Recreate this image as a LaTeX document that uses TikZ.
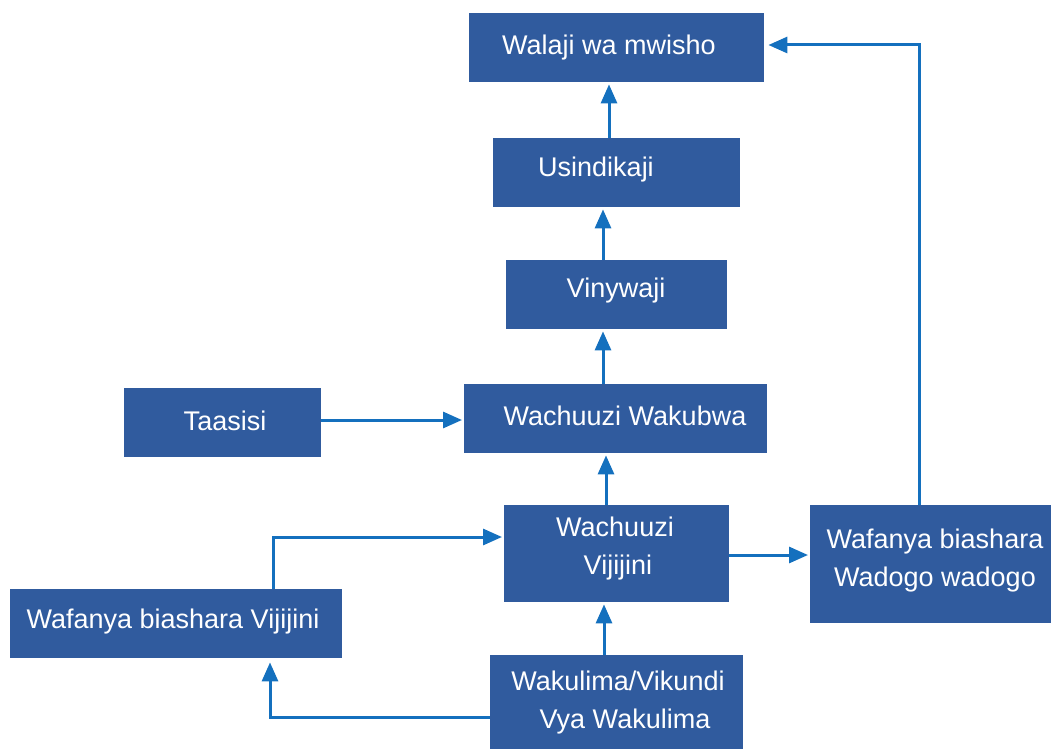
\documentclass[tikz,border=0pt]{standalone}
\usepackage{fontspec}
\setmainfont{Liberation Sans}
\usetikzlibrary{arrows.meta,positioning}
\definecolor{boxblue}{RGB}{48,91,158}
\definecolor{arrblue}{RGB}{20,112,190}
\tikzset{
  box/.style={fill=boxblue,draw=none,inner sep=0pt,anchor=north west},
  lbl/.style={text=white,font=\fontsize{27}{38}\selectfont,inner sep=0pt,align=center},
  conn/.style={draw=arrblue,line width=3pt,-{Triangle[length=19pt,width=16pt]}}
}
\begin{document}
\begin{tikzpicture}[x=1pt,y=-1pt]
\useasboundingbox (0,0) rectangle (1052,749);
% boxes
\node[box,minimum width=295pt,minimum height=69pt] (walaji) at (469,13) {};
\node[box,minimum width=247pt,minimum height=69pt] (usind) at (493,138) {};
\node[box,minimum width=221pt,minimum height=69pt] (viny) at (506,260) {};
\node[box,minimum width=197pt,minimum height=69pt] (taas) at (124,388) {};
\node[box,minimum width=303pt,minimum height=69pt] (wakub) at (464,384) {};
\node[box,minimum width=225pt,minimum height=97pt] (vijij) at (504,505) {};
\node[box,minimum width=241pt,minimum height=118pt] (wadogo) at (810,505) {};
\node[box,minimum width=332pt,minimum height=69pt] (wafvij) at (10,589) {};
\node[box,minimum width=253pt,minimum height=94pt] (wakul) at (490,655) {};
% labels
\node[lbl] (t1) at (609,48) {Walaji wa mwisho};
\node[lbl] (t2) at (596,170) {Usindikaji};
\node[lbl] (t3) at (616,291) {Vinywaji};
\node[lbl] (t4) at (225,421) {Taasisi};
\node[lbl] (t5) at (625,416) {Wachuuzi Wakubwa};
\node[lbl] (t6) at (615,549) {Wachuuzi\\\hspace*{6pt}Vijijini};
\node[lbl] (t7) at (935,561) {Wafanya biashara\\Wadogo wadogo};
\node[lbl] (t8) at (173,622) {Wafanya biashara Vijijini};
\node[lbl] (t9) at (618,703) {Wakulima/Vikundi\\\hspace*{14pt}Vya Wakulima};
% helper coordinates
\coordinate (x609) at (609,0);
\coordinate (x603) at (603,0);
\coordinate (x606) at (606,0);
\coordinate (x604) at (604,0);
\coordinate (x270) at (270,0);
\coordinate (x273) at (273,0);
\coordinate (x919) at (919,0);
\coordinate (y420) at (0,420);
\coordinate (y555) at (0,555);
\coordinate (y537) at (0,537);
\coordinate (y717) at (0,717);
\coordinate (y45) at (0,45);
% connectors
\draw[conn] (usind.north -| x609) -- ([yshift=-2pt]walaji.south -| x609);
\draw[conn] (viny.north -| x603) -- ([yshift=-2pt]usind.south -| x603);
\draw[conn] (wakub.north -| x603) -- ([yshift=-2pt]viny.south -| x603);
\draw[conn] (taas.east |- y420) -- ([xshift=-2pt]wakub.west |- y420);
\draw[conn] (vijij.north -| x606) -- ([yshift=-2pt]wakub.south -| x606);
\draw[conn] (wakul.north -| x604) -- ([yshift=-2pt]vijij.south -| x604);
\draw[conn] (vijij.east |- y555) -- ([xshift=-2pt]wadogo.west |- y555);
\draw[conn] (wafvij.north -| x273) -- (x273 |- y537) -- ([xshift=-2pt]vijij.west |- y537);
\draw[conn] (wakul.west |- y717) -- (x270 |- y717) -- ([yshift=-4pt]wafvij.south -| x270);
\draw[conn] (wadogo.north -| x919) -- (x919 |- y45) -- ([xshift=4pt]walaji.east |- y45);
\end{tikzpicture}
\end{document}
